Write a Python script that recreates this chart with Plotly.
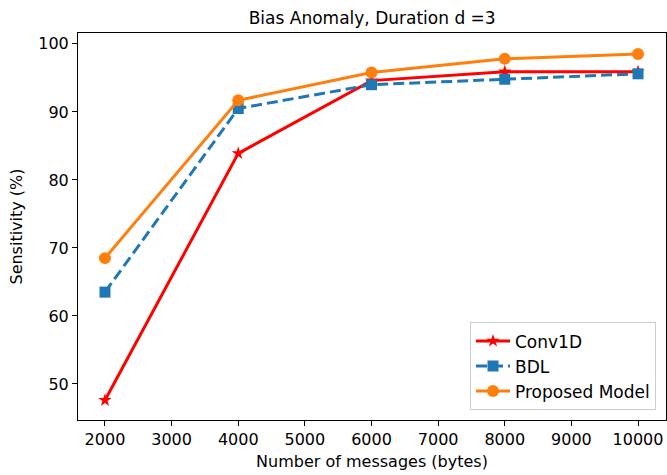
import plotly.graph_objects as go

messages = [2000, 4000, 6000, 8000, 10000]
conv1d = [47.6, 83.9, 94.6, 95.9, 95.9]
bdl = [63.5, 90.5, 94.0, 94.8, 95.6]
proposed = [68.5, 91.7, 95.8, 97.8, 98.5]

x_ticks = [2000, 3000, 4000, 5000, 6000, 7000, 8000, 9000, 10000]
x_tick_labels = [str(v) for v in x_ticks]
y_ticks = [50, 60, 70, 80, 90, 100]

fig = go.Figure()
fig.add_trace(go.Scatter(
    x=messages, y=conv1d, name="Conv1D", mode="lines+markers",
    line=dict(color="#ff0000", width=3),
    marker=dict(symbol="star", size=10, color="#ff0000"),
))
fig.add_trace(go.Scatter(
    x=messages, y=bdl, name="BDL", mode="lines+markers",
    line=dict(color="#1f77b4", width=3, dash="11px,5px"),
    marker=dict(symbol="square", size=11, color="#1f77b4"),
))
fig.add_trace(go.Scatter(
    x=messages, y=proposed, name="Proposed Model", mode="lines+markers",
    line=dict(color="#ff7f0e", width=3),
    marker=dict(symbol="circle", size=12, color="#ff7f0e"),
))

axis_common = dict(
    showgrid=False, zeroline=False, showline=True, linecolor="black",
    linewidth=1, mirror=True, ticks="outside", ticklen=5, tickcolor="black",
    tickfont=dict(size=16, color="black"),
)

fig.update_layout(
    width=667, height=475,
    margin=dict(l=78, r=1, t=33, b=55),
    paper_bgcolor="white", plot_bgcolor="white",
    font=dict(family="DejaVu Sans", color="black"),
    title=dict(text="Bias Anomaly, Duration d =3", x=0.558, xanchor="center",
               y=0.963, yanchor="middle", font=dict(size=17)),
    xaxis=dict(axis_common, range=[1595, 10420], tickvals=x_ticks,
               ticktext=x_tick_labels,
               title=dict(text="Number of messages (bytes)", font=dict(size=16), standoff=7)),
    yaxis=dict(axis_common, range=[44.7, 101.6], tickvals=y_ticks,
               title=dict(text="Sensitivity (%)", font=dict(size=16), standoff=11)),
    legend=dict(x=0.983, y=0.025, xanchor="right", yanchor="bottom",
                bgcolor="white", bordercolor="#cccccc", borderwidth=1,
                font=dict(size=17), itemwidth=34, tracegroupgap=0),
    showlegend=True,
)

fig.write_html("out.html")
